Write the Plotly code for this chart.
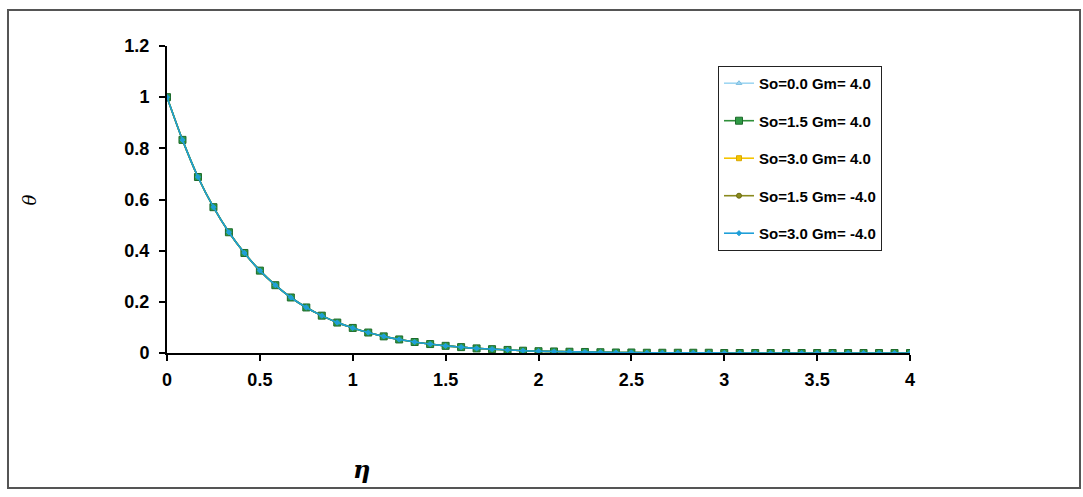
import numpy as np
import plotly.graph_objects as go

# Similarity variable grid (49 nodes on 0..4)
eta = np.linspace(0.0, 4.0, 49)

# Temperature profiles theta(eta); the five cases coincide
theta = [1.000, 0.833, 0.688, 0.570, 0.472, 0.391, 0.322, 0.265, 0.217, 0.178,
         0.146, 0.119, 0.098, 0.080, 0.065, 0.053, 0.043, 0.035, 0.028, 0.023,
         0.018, 0.015, 0.012, 0.009, 0.007, 0.006, 0.005, 0.004, 0.003, 0.002,
         0.002, 0.001, 0.001, 0.001, 0.001, 0.001, 0.000, 0.000, 0.000, 0.000,
         0.000, 0.000, 0.000, 0.000, 0.000, 0.000, 0.000, 0.000, 0.000]

series_names = ["So=0.0 Gm= 4.0", "So=1.5 Gm= 4.0", "So=3.0 Gm= 4.0",
                "So=1.5 Gm= -4.0", "So=3.0 Gm= -4.0"]
series_theta = [theta, theta, theta, theta, theta]

styles = [
    dict(color="#9fd6f2", symbol="triangle-up", size=5, mcolor="#9fd6f2", mline="#7fbfe0"),
    dict(color="#2f8f3a", symbol="square", size=7, mcolor="#2f9a45", mline="#1d6a2b"),
    dict(color="#f5c400", symbol="square", size=5, mcolor="#f5c400", mline="#d9a800"),
    dict(color="#8a8a1e", symbol="circle", size=5, mcolor="#8a8a1e", mline="#6b6b10"),
    dict(color="#1f9fd8", symbol="diamond", size=4, mcolor="#1f9fd8", mline="#1f9fd8"),
]

# drawing order keeps the green markers and blue line on top
draw_order = [0, 2, 3, 1, 4]

fig = go.Figure()
for k in draw_order:
    s = styles[k]
    fig.add_trace(go.Scatter(
        x=eta, y=series_theta[k], name=series_names[k],
        mode="lines+markers", legendrank=k + 1, legendgroup=f"g{k}",
        line=dict(color=s["color"], width=1.6, shape="spline", smoothing=0.6),
        marker=dict(symbol=s["symbol"], size=s["size"], color=s["mcolor"],
                    line=dict(color=s["mline"], width=1)),
    ))

font_main = "Arial, Liberation Sans, sans-serif"

fig.update_layout(
    width=1083, height=497,
    margin=dict(l=167, r=173, t=46, b=144),
    paper_bgcolor="white", plot_bgcolor="white",
    showlegend=True,
    legend=dict(
        x=0.7416, y=0.935, xanchor="left", yanchor="top",
        bgcolor="white", bordercolor="#222222", borderwidth=1,
        font=dict(family=font_main, size=15, color="black", weight="bold"),
        tracegroupgap=15, itemwidth=30,
    ),
    xaxis=dict(
        range=[0, 4], tickvals=[0, 0.5, 1, 1.5, 2, 2.5, 3, 3.5, 4],
        ticktext=["0", "0.5", "1", "1.5", "2", "2.5", "3", "3.5", "4"],
        showgrid=False, zeroline=False, showline=True, linecolor="black", linewidth=2,
        ticks="outside", ticklen=6, tickwidth=2, tickcolor="black",
        tickfont=dict(family=font_main, size=18, color="black", weight="bold"),
        ticklabelstandoff=3,
    ),
    yaxis=dict(
        range=[0, 1.2], tickvals=[0, 0.2, 0.4, 0.6, 0.8, 1.0, 1.2],
        ticktext=["0", "0.2", "0.4", "0.6", "0.8", "1", "1.2"],
        showgrid=False, zeroline=False, showline=True, linecolor="black", linewidth=2,
        ticks="outside", ticklen=6, tickwidth=2, tickcolor="black",
        tickfont=dict(family=font_main, size=18, color="black", weight="bold"),
        ticklabelstandoff=6,
    ),
    shapes=[dict(type="rect", xref="paper", yref="paper",
                 x0=-0.214, x1=1.2288, y0=-0.4397, y1=1.117,
                 line=dict(color="#555555", width=2), layer="below")],
    annotations=[
        dict(text="<i>θ</i>", xref="paper", yref="paper", x=-0.1844, y=0.50,
             xanchor="center", yanchor="middle",
             showarrow=False, textangle=-90,
             font=dict(family="DejaVu Serif, serif", size=18, color="black")),
        dict(text="<b><i>η</i></b>", xref="paper", yref="paper", x=0.262, y=-0.381,
             xanchor="center", yanchor="middle",
             showarrow=False,
             font=dict(family="DejaVu Serif, serif", size=24, color="black")),
    ],
)

fig.write_html("out.html")
